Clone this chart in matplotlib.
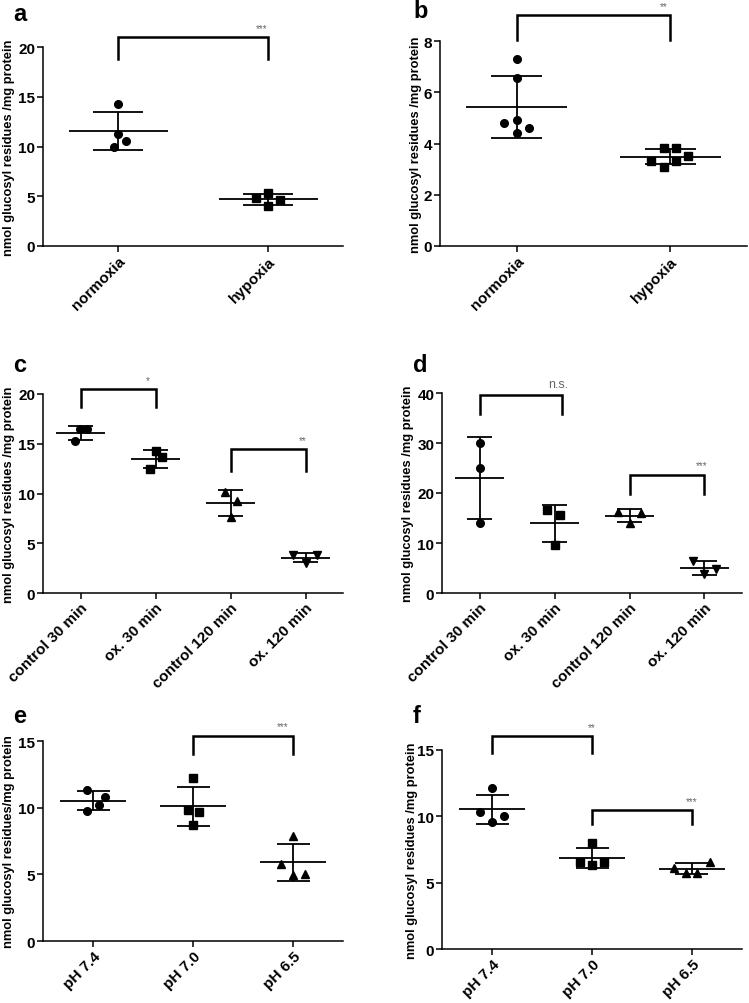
import numpy as np
import matplotlib
matplotlib.use('Agg')
import matplotlib.pyplot as plt

plt.rcParams['font.family'] = ['Liberation Sans', 'DejaVu Sans']

# ---- data ----
a_labels = ['normoxia', 'hypoxia']
a_normoxia = [14.3, 11.3, 10.55, 10.0]
a_hypoxia = [5.36, 4.79, 4.59, 4.02]
a_normoxia_dx = [0.0, 0.0, 0.05, -0.03]
a_hypoxia_dx = [0.0, -0.077, 0.08, 0.0]

b_labels = ['normoxia', 'hypoxia']
b_normoxia = [7.28, 6.57, 4.90, 4.79, 4.59, 4.40]
b_hypoxia = [3.81, 3.81, 3.33, 3.33, 3.51, 3.08]
b_normoxia_dx = [0.0, 0.0, 0.0, -0.083, 0.077, 0.0]
b_hypoxia_dx = [-0.04, 0.037, -0.123, 0.037, 0.118, -0.04]

c_labels = ['control 30 min', 'ox. 30 min', 'control 120 min', 'ox. 120 min']
c_ctrl30 = [15.32, 16.49, 16.49]
c_ox30 = [14.28, 13.68, 12.47]
c_ctrl120 = [10.2, 9.2, 7.65]
c_ox120 = [3.8, 3.8, 3.05]
c_ctrl30_dx = [-0.076, -0.01, 0.09]
c_ox30_dx = [0.0, 0.09, -0.076]
c_ctrl120_dx = [-0.08, 0.085, 0.0]
c_ox120_dx = [-0.165, 0.15, 0.0]

d_labels = ['control 30 min', 'ox. 30 min', 'control 120 min', 'ox. 120 min']
d_ctrl30 = [29.93, 24.93, 14.0]
d_ox30 = [16.6, 15.6, 9.7]
d_ctrl120 = [16.3, 16.1, 14.1]
d_ox120 = [6.4, 4.8, 3.8]
d_ctrl30_dx = [0.0, 0.0, 0.0]
d_ox30_dx = [-0.098, 0.07, 0.0]
d_ctrl120_dx = [-0.147, 0.15, 0.0]
d_ox120_dx = [-0.15, 0.155, 0.0]

e_labels = ['pH 7.4', 'pH 7.0', 'pH 6.5']
e_ph74 = [11.33, 10.83, 10.2, 9.75]
e_ph70 = [12.2, 9.8, 9.68, 8.68]
e_ph65 = [7.88, 5.75, 4.93, 5.05]
e_ph74_dx = [-0.057, 0.12, 0.057, -0.057]
e_ph70_dx = [0.0, -0.053, 0.06, 0.0]
e_ph65_dx = [0.0, -0.12, 0.0, 0.117]

f_labels = ['pH 7.4', 'pH 7.0', 'pH 6.5']
f_ph74 = [12.13, 10.35, 10.05, 9.55]
f_ph70 = [8.02, 6.57, 6.57, 6.32]
f_ph65 = [6.59, 6.14, 5.76, 5.76]
f_ph74_dx = [0.0, -0.12, 0.12, 0.0]
f_ph70_dx = [0.0, -0.117, 0.12, 0.0]
f_ph65_dx = [0.177, -0.183, -0.06, 0.05]

W, H = 749, 1004
fig = plt.figure(figsize=(W / 100, H / 100), dpi=100)


def rect(x0, x1, ytop, ybot):
    return [x0 / W, 1 - ybot / H, (x1 - x0) / W, (ybot - ytop) / H]


def dot_panel(ax, labels, groups, offsets, markers, ylim, yticks, ylabel, label_x):
    for i, (vals, dx, m) in enumerate(zip(groups, offsets, markers)):
        vals = np.array(vals)
        mean = vals.mean()
        sd = vals.std(ddof=1)
        ax.plot(i + np.array(dx), vals, linestyle='none', marker=m, ms=5.5,
                color='black', clip_on=False, zorder=3)
        ax.hlines(mean, i - 0.33, i + 0.33, color='black', lw=1.3)
        ax.hlines([mean - sd, mean + sd], i - 0.165, i + 0.165, color='black', lw=1.3)
        ax.vlines(i, mean - sd, mean + sd, color='black', lw=1.3)
    ax.set_xlim(-0.5, len(groups) - 0.5)
    ax.set_ylim(*ylim)
    ax.set_yticks(yticks)
    ax.set_xticks(range(len(labels)))
    ax.set_xticklabels(labels, rotation=45, ha='right', rotation_mode='anchor',
                       fontsize=11, fontweight='bold')
    for t in ax.get_yticklabels():
        t.set_fontsize(11)
        t.set_fontweight('bold')
    for s in ['top', 'right']:
        ax.spines[s].set_visible(False)
    for s in ['left', 'bottom']:
        ax.spines[s].set_linewidth(1.1)
    ax.tick_params(direction='out', length=4, width=1.1, pad=1.5)
    ax.set_ylabel(ylabel, fontsize=9.3, fontweight='bold')
    ax.yaxis.set_label_coords(label_x, 0.5)


def bracket(ax, x0, x1, top, bottom, text, size=7, tx=None):
    ax.plot([x0, x0, x1, x1], [bottom, top, top, bottom], color='black', lw=1.8,
            clip_on=False, solid_joinstyle='miter')
    if tx is None:
        tx = x1 - 0.04
    ax.annotate(text, (tx, top), xytext=(0, 3), textcoords='offset points',
                ha='center', va='bottom', fontsize=size, color='#666666',
                annotation_clip=False)


ylab = 'nmol glucosyl residues /mg protein'

ax_a = fig.add_axes(rect(43, 343, 48, 247))
dot_panel(ax_a, a_labels, [a_normoxia, a_hypoxia], [a_normoxia_dx, a_hypoxia_dx],
          ['o', 's'], (0, 20), [0, 5, 10, 15, 20], ylab, -0.093)
bracket(ax_a, 0, 1, 21.0, 18.8, '***')

ax_b = fig.add_axes(rect(440, 747, 42, 247))
dot_panel(ax_b, b_labels, [b_normoxia, b_hypoxia], [b_normoxia_dx, b_hypoxia_dx],
          ['o', 's'], (0, 8), [0, 2, 4, 6, 8], ylab, -0.06)
bracket(ax_b, 0, 1, 9.0, 8.04, '**')

ax_c = fig.add_axes(rect(43, 343, 395, 594))
dot_panel(ax_c, c_labels, [c_ctrl30, c_ox30, c_ctrl120, c_ox120],
          [c_ctrl30_dx, c_ox30_dx, c_ctrl120_dx, c_ox120_dx],
          ['o', 's', '^', 'v'], (0, 20), [0, 5, 10, 15, 20], ylab, -0.093)
bracket(ax_c, 0, 1, 20.5, 18.66, '*', tx=0.9)
bracket(ax_c, 2, 3, 14.48, 12.3, '**')

ax_d = fig.add_axes(rect(442, 742, 394, 594))
dot_panel(ax_d, d_labels, [d_ctrl30, d_ox30, d_ctrl120, d_ox120],
          [d_ctrl30_dx, d_ox30_dx, d_ctrl120_dx, d_ox120_dx],
          ['o', 's', '^', 'v'], (0, 40), [0, 10, 20, 30, 40], ylab, -0.093)
bracket(ax_d, 0, 1.1, 39.7, 35.9, 'n.s.', size=9, tx=1.05)
bracket(ax_d, 2, 3, 23.7, 19.9, '***')

ax_e = fig.add_axes(rect(43, 343, 742, 942))
dot_panel(ax_e, e_labels, [e_ph74, e_ph70, e_ph65], [e_ph74_dx, e_ph70_dx, e_ph65_dx],
          ['o', 's', '^'], (0, 15), [0, 5, 10, 15],
          'nmol glucosyl residues/mg protein', -0.093)
bracket(ax_e, 1, 2, 15.4, 14.05, '***', tx=1.9)

ax_f = fig.add_axes(rect(442, 742, 751, 950))
dot_panel(ax_f, f_labels, [f_ph74, f_ph70, f_ph65], [f_ph74_dx, f_ph70_dx, f_ph65_dx],
          ['o', 's', '^'], (0, 15), [0, 5, 10, 15], ylab, -0.08)
bracket(ax_f, 0, 1, 16.04, 14.79, '**', tx=1.0)
bracket(ax_f, 1, 2, 10.45, 9.4, '***', tx=2.0)

# panel letters
for letter, x, y in [('a', 13, 21), ('b', 413, 18), ('c', 13, 372),
                     ('d', 413, 372), ('e', 13, 723), ('f', 413, 723)]:
    fig.text(x / W, 1 - y / H, letter, fontsize=17, fontweight='bold',
             ha='left', va='baseline')

fig.savefig('out.png', dpi=100)
